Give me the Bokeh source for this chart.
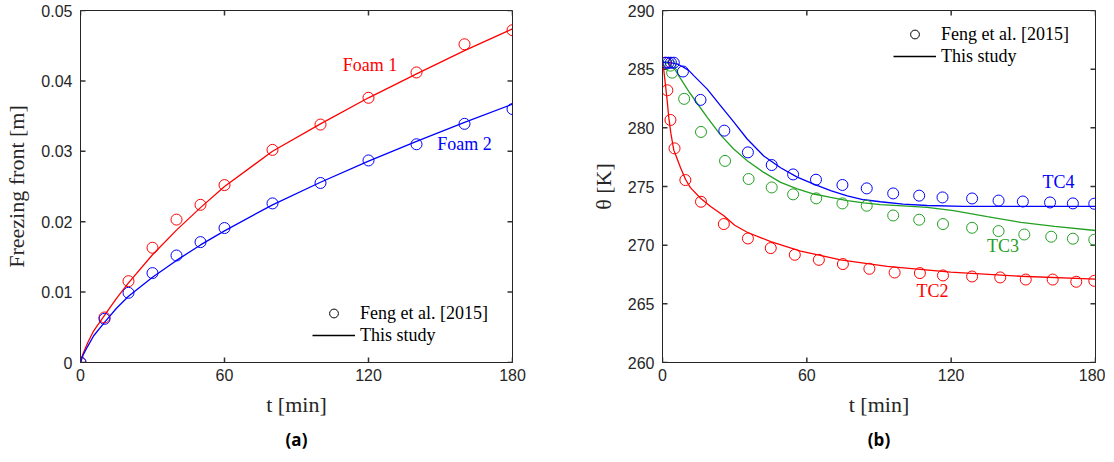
from math import pi
from bokeh.plotting import figure
from bokeh.models import (Range1d, FixedTicker, Label, Legend, LegendItem, Title)
from bokeh.layouts import row
from bokeh.embed import file_html
from bokeh.resources import INLINE

# ---------------- data: panel (a) ----------------
t_exp_a = [0, 10, 20, 30, 40, 50, 60, 80, 100, 120, 140, 160, 180]
foam1_exp = [0, 0.0064, 0.01155, 0.0163, 0.0203, 0.0224, 0.0252, 0.0302, 0.0338, 0.0376, 0.0412, 0.0452, 0.0472]
foam2_exp = [0, 0.0062, 0.0099, 0.0127, 0.0152, 0.0171, 0.0191, 0.0226, 0.0255, 0.0287, 0.0310, 0.0339, 0.0360]

t_mod_a = [0, 1, 3, 5.5, 10, 15, 20, 30, 40, 50, 60, 80, 100, 120, 140, 160, 180]
foam1_mod = [0, 0.0012, 0.0028, 0.0045, 0.0067, 0.0091, 0.0113, 0.0153, 0.0188, 0.0220, 0.0250, 0.0300, 0.0339, 0.0376, 0.0410, 0.0443, 0.0474]
foam2_mod = [0, 0.0010, 0.0023, 0.0038, 0.0057, 0.0077, 0.0094, 0.0121, 0.0145, 0.0167, 0.0187, 0.0224, 0.0256, 0.0286, 0.0314, 0.0341, 0.0367]

# ---------------- data: panel (b) ----------------
tc2_t = [1, 2, 3.3, 5, 9.5, 16, 25.5, 35.5, 45, 55, 65, 75, 86, 96.5, 107, 116.6, 128.7, 140.4, 151, 162.2, 172, 179.5]
tc2_exp = [285.55, 283.2, 280.67, 278.25, 275.55, 273.7, 271.8, 270.57, 269.75, 269.18, 268.75, 268.39, 267.99, 267.67, 267.62, 267.42, 267.33, 267.25, 267.07, 267.07, 266.88, 266.96]
tc3_t = [3.3, 4, 9, 16, 26, 35.8, 45.4, 54.3, 63.9, 74.8, 84.9, 95.9, 106.7, 116.6, 128.7, 139.7, 150.4, 161.6, 170.6, 179.5]
tc3_exp = [285.3, 284.7, 282.47, 279.65, 277.18, 275.64, 274.92, 274.33, 273.99, 273.56, 273.36, 272.53, 272.17, 271.80, 271.48, 271.20, 270.91, 270.72, 270.55, 270.46]
tc4_t = [1.5, 2.5, 3.5, 4.7, 8.5, 15.8, 25.7, 35.5, 45.4, 54.3, 63.8, 74.8, 84.9, 95.9, 106.7, 116.4, 128.7, 139.7, 149.8, 161.1, 170.6, 179.5]
tc4_exp = [285.55, 285.55, 285.55, 285.55, 284.8, 282.38, 279.76, 277.91, 276.83, 276.03, 275.58, 275.13, 274.84, 274.41, 274.22, 274.07, 273.98, 273.8, 273.72, 273.64, 273.56, 273.53]

tc2_mt = [0, 0.6, 1.2, 2.0, 2.6, 3.5, 4.7, 6, 7.5, 9.6, 11.6, 15.8, 20, 25.5, 30, 35.2, 45, 57.4, 74, 93.4, 119.8, 148.9, 180]
tc2_mod = [285.6, 284.8, 283.7, 282.2, 280.9, 279.5, 278.1, 277.4, 276.6, 275.6, 274.9, 274.0, 273.3, 272.5, 271.7, 271.1, 270.3, 269.5, 268.75, 268.2, 267.7, 267.35, 267.1]
tc3_mt = [0, 2.6, 5.4, 7.2, 10.9, 13, 18.6, 24.1, 29.6, 35.2, 42.1, 49.1, 56, 62.9, 69.9, 76.8, 83.7, 90.6, 100, 110, 121, 135, 149, 163, 180]
tc3_mod = [285.6, 285.5, 284.9, 284.3, 283.1, 282.5, 280.9, 279.4, 278.2, 277.2, 276.2, 275.35, 274.8, 274.36, 274.07, 273.8, 273.6, 273.45, 273.35, 273.22, 272.94, 272.43, 271.94, 271.6, 271.25]
tc4_mt = [0, 3, 6, 8, 10.9, 13, 18.6, 24.1, 29.6, 35.2, 42.1, 49.1, 56, 62.9, 69.9, 76.8, 83.7, 90.6, 100, 110, 125, 150, 180]
tc4_mod = [285.6, 285.55, 285.45, 285.25, 284.9, 284.45, 283.3, 281.9, 280.5, 279.05, 277.6, 276.6, 275.8, 275.2, 274.64, 274.2, 273.87, 273.7, 273.5, 273.38, 273.3, 273.3, 273.3]

x_ticks = [0, 60, 120, 180]
ya_ticks = [0, 0.01, 0.02, 0.03, 0.04, 0.05]
ya_labels = ["0", "0.01", "0.02", "0.03", "0.04", "0.05"]
yb_ticks = [260, 265, 270, 275, 280, 285, 290]

RED, BLUE, GREEN = "#ff0000", "#0000ff", "#22a022"
AX = "#262626"
SERIF = "Liberation Serif"
SANS = "Liberation Sans"
NAN = float("nan")
FRAME_H = 352
TICK_PX = 5


def style(p, frame_w, yticks, xlabel, ylabel, caption, ylabels=None):
    xr, yr = p.x_range, p.y_range
    p.xaxis.ticker = FixedTicker(ticks=x_ticks)
    p.yaxis.ticker = FixedTicker(ticks=yticks)
    if ylabels:
        p.yaxis.major_label_overrides = dict(zip(yticks, ylabels))
    for ax in p.xaxis + p.yaxis:
        ax.major_tick_in = 0
        ax.major_tick_out = 0
        ax.minor_tick_in = 0
        ax.minor_tick_out = 0
        ax.axis_line_color = AX
        ax.major_label_text_font = SANS
        ax.major_label_text_font_size = "16px"
        ax.major_label_text_color = AX
        ax.axis_label_text_font = SERIF
        ax.axis_label_text_font_size = "22px"
        ax.axis_label_text_font_style = "normal"
        ax.axis_label_text_color = AX
    p.xaxis.major_label_standoff = 6
    p.yaxis.major_label_standoff = 8
    p.xaxis.axis_label = xlabel
    p.yaxis.axis_label = ylabel
    p.xaxis.axis_label_standoff = 8
    p.yaxis.axis_label_standoff = 9
    p.xgrid.visible = False
    p.ygrid.visible = False
    p.outline_line_color = AX
    p.outline_line_width = 1
    # inward tick marks on all four sides (tick length converted from pixels)
    dx = TICK_PX * (xr.end - xr.start) / frame_w
    dy = TICK_PX * (yr.end - yr.start) / FRAME_H
    n = len(x_ticks)
    m = len(yticks)
    kw = dict(line_color="#333333", line_width=1.5)
    p.segment(x0=x_ticks, y0=[yr.start] * n, x1=x_ticks, y1=[yr.start + dy] * n, **kw)
    p.segment(x0=x_ticks, y0=[yr.end] * n, x1=x_ticks, y1=[yr.end - dy] * n, **kw)
    p.segment(x0=[xr.start] * m, y0=yticks, x1=[xr.start + dx] * m, y1=yticks, **kw)
    p.segment(x0=[xr.end] * m, y0=yticks, x1=[xr.end - dx] * m, y1=yticks, **kw)
    p.add_layout(Title(text=caption, align="center", text_font="Open Sans",
                       text_font_style="bold", text_font_size="17px",
                       text_color="black", standoff=13), "below")


def add_legend(p, loc):
    r1 = p.scatter(x=[NAN], y=[NAN], marker="circle", size=8, fill_color=None, line_color="black", line_width=1)
    r2 = p.line(x=[NAN, NAN], y=[NAN, NAN], line_color="black", line_width=1.3)
    lg = Legend(items=[LegendItem(label="Feng et al. [2015]", renderers=[r1]),
                       LegendItem(label="This study", renderers=[r2])],
                location=loc, padding=0, margin=0, spacing=0,
                glyph_width=43, glyph_height=22, label_height=22, label_standoff=5,
                label_text_font=SERIF, label_text_font_size="18px", label_text_color="black",
                border_line_alpha=0, background_fill_alpha=0)
    p.add_layout(lg)


def lbl(p, x, y, text, color):
    p.add_layout(Label(x=x, y=y, text=text, text_font=SERIF, text_font_size="18px",
                       text_color=color, text_align="center", text_baseline="middle"))


# ---------------- panel (a) ----------------
pa = figure(width=584, height=460, output_backend="svg", toolbar_location=None,
            x_range=Range1d(0, 180), y_range=Range1d(0, 0.05),
            min_border_left=80, min_border_right=72, min_border_top=10, min_border_bottom=98,
            background_fill_color="white", border_fill_color="white")
style(pa, 432, ya_ticks, "t [min]", "Freezing front [m]", "(a)", ya_labels)
pa.line(t_mod_a, foam1_mod, line_color=RED, line_width=1.3)
pa.line(t_mod_a, foam2_mod, line_color=BLUE, line_width=1.3)
pa.scatter(t_exp_a, foam1_exp, marker="circle", size=11, fill_color=None, line_color=RED, line_width=1)
pa.scatter(t_exp_a, foam2_exp, marker="circle", size=11, fill_color=None, line_color=BLUE, line_width=1)
add_legend(pa, (232, 16))
lbl(pa, 120.6, 0.0423, "Foam 1", RED)
lbl(pa, 160, 0.0310, "Foam 2", BLUE)

# ---------------- panel (b) ----------------
pb = figure(width=521, height=460, output_backend="svg", toolbar_location=None,
            x_range=Range1d(0, 180), y_range=Range1d(260, 290),
            min_border_left=78, min_border_right=10, min_border_top=10, min_border_bottom=98,
            background_fill_color="white", border_fill_color="white")
style(pb, 433, yb_ticks, "t [min]", "θ [K]", "(b)")
pb.line(tc2_mt, tc2_mod, line_color=RED, line_width=1.3)
pb.line(tc3_mt, tc3_mod, line_color=GREEN, line_width=1.3)
pb.line(tc4_mt, tc4_mod, line_color=BLUE, line_width=1.3)
pb.scatter(tc2_t, tc2_exp, marker="circle", size=11, fill_color=None, line_color=RED, line_width=1)
pb.scatter(tc3_t, tc3_exp, marker="circle", size=11, fill_color=None, line_color=GREEN, line_width=1)
pb.scatter(tc4_t, tc4_exp, marker="circle", size=11, fill_color=None, line_color=BLUE, line_width=1)
add_legend(pb, (231, 295))
lbl(pb, 164.6, 275.36, "TC4", BLUE)
lbl(pb, 141.5, 269.91, "TC3", GREEN)
lbl(pb, 112.2, 266.13, "TC2", RED)

layout = row(pa, pb)
open("out.html", "w").write(file_html(layout, INLINE))
